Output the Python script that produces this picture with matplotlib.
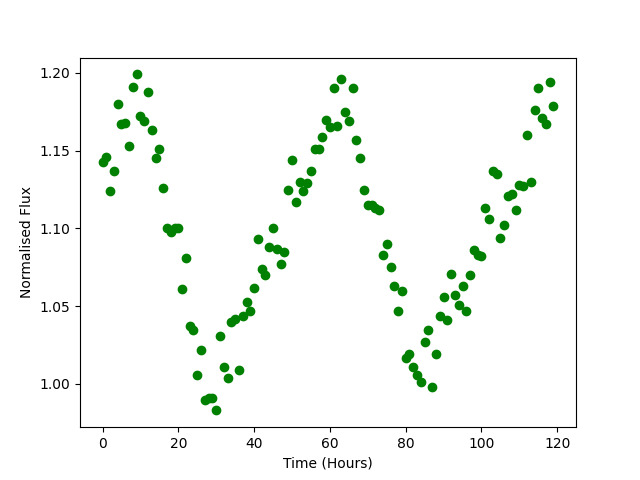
import numpy as np
import matplotlib
matplotlib.use("Agg")
import matplotlib.pyplot as plt

time_hours = np.arange(120)
flux = [
    1.143, 1.146, 1.124, 1.137, 1.180, 1.167, 1.168, 1.153, 1.191, 1.199,
    1.172, 1.169, 1.188, 1.163, 1.145, 1.151, 1.126, 1.100, 1.098, 1.100,
    1.100, 1.061, 1.081, 1.037, 1.035, 1.006, 1.022, 0.990, 0.991, 0.991,
    0.983, 1.031, 1.011, 1.004, 1.040, 1.042, 1.009, 1.044, 1.053, 1.047,
    1.062, 1.093, 1.074, 1.070, 1.088, 1.100, 1.087, 1.077, 1.085, 1.125,
    1.144, 1.117, 1.130, 1.124, 1.129, 1.137, 1.151, 1.151, 1.159, 1.170,
    1.165, 1.190, 1.166, 1.196, 1.175, 1.169, 1.190, 1.157, 1.145, 1.125,
    1.115, 1.115, 1.113, 1.112, 1.083, 1.090, 1.075, 1.063, 1.047, 1.060,
    1.017, 1.019, 1.011, 1.006, 1.001, 1.027, 1.035, 0.998, 1.019, 1.044,
    1.056, 1.041, 1.071, 1.057, 1.051, 1.063, 1.047, 1.070, 1.086, 1.083,
    1.082, 1.113, 1.106, 1.137, 1.135, 1.094, 1.102, 1.121, 1.122, 1.112,
    1.128, 1.127, 1.160, 1.130, 1.176, 1.190, 1.171, 1.167, 1.194, 1.179,
]

fig, ax = plt.subplots(figsize=(6.4, 4.8), dpi=100)
ax.plot(time_hours, flux, "o", color="green")
ax.set_xlabel("Time (Hours)")
ax.set_ylabel("Normalised Flux")
fig.savefig("out.png")
